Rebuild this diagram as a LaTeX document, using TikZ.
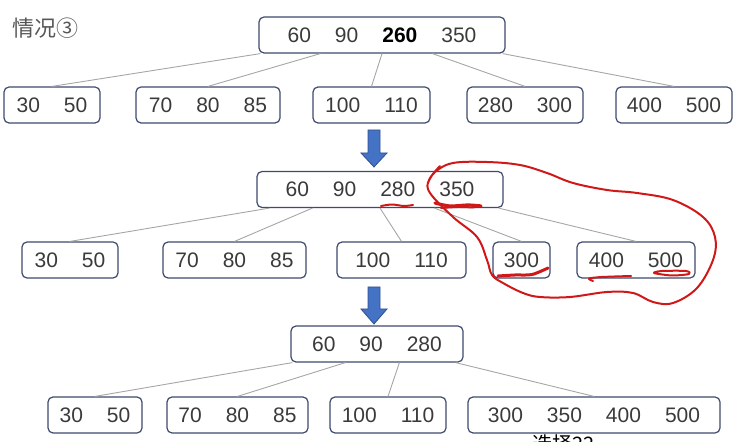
\documentclass[tikz,border=0pt]{standalone}
\usepackage{fontspec}
\setmainfont{Liberation Sans}
\newfontfamily\cjk{Noto Sans CJK SC}
\usetikzlibrary{calc}

\definecolor{boxline}{HTML}{3E4A6E}
\definecolor{linkgray}{HTML}{A6A6A6}
\definecolor{numtext}{HTML}{3A3A3A}
\definecolor{arrowblue}{HTML}{4472C4}
\definecolor{arrowedge}{HTML}{2F528F}
\definecolor{inkred}{HTML}{D01818}

\newcommand{\kgap}{\hspace{12pt}}

\tikzset{
	keybox/.style={draw=boxline, line width=0.6pt, rounded corners=2.5pt, minimum height=18pt, inner sep=0pt, text=numtext, font=\fontsize{10.5}{12}\selectfont},
	link/.style={draw=linkgray, line width=0.45pt},
	pen/.style={draw=inkred, line width=1pt, line cap=round, line join=round},
	blockarrow/.style={fill=arrowblue, draw=arrowedge, line width=0.4pt}
}

\begin{document}
\begin{tikzpicture}[x=0.5pt, y=-0.5pt]
		\useasboundingbox (0,0) rectangle (747,442);
		\node[anchor=west, text=numtext!85, font=\cjk\fontsize{11}{13}\selectfont, inner sep=0pt] (title) at (12,28) {情况③};

		% before the split
		\node[keybox, minimum width=123pt] (t1) at (382,35) {60\kgap 90\kgap \textbf{\color{black}260}\kgap 350};
		\node[keybox, minimum width=48pt] (a1) at (52,105) {30\kgap 50};
		\node[keybox, minimum width=72pt] (a2) at (208,105) {70\kgap 80\kgap 85};
		\node[keybox, minimum width=58.5pt] (a3) at (371.5,105) {100\kgap 110};
		\node[keybox, minimum width=58pt] (a4) at (525,105) {280\kgap 300};
		\node[keybox, minimum width=58pt] (a5) at (674,105) {400\kgap 500};
		\draw[link] ($(t1.south west)+(2,0)$) -- (a1.north);
		\draw[link] ($(t1.south west)+(62,0)$) -- (a2.north);
		\draw[link] (t1.south) -- (a3.north);
		\draw[link] ($(t1.south west)+(174,0)$) -- (a4.north);
		\draw[link] ($(t1.south east)+(-3,0)$) -- (a5.north);

		\draw[blockarrow] (368,130) -- (380,130) -- (380,153) -- (387,153) -- (374,167) -- (361,153) -- (368,153) -- cycle;

		% after moving 280 up
		\node[keybox, minimum width=123pt] (t2) at (380,189.5) {60\kgap 90\kgap 280\kgap 350};
		\node[keybox, minimum width=48pt] (b1) at (70,260) {30\kgap 50};
		\node[keybox, minimum width=71.5pt] (b2) at (234.5,260) {70\kgap 80\kgap 85};
		\node[keybox, minimum width=64.5pt] (b3) at (401.5,260) {100\kgap 110};
		\node[keybox, minimum width=28.5pt] (b4) at (521.5,260) {300};
		\node[keybox, minimum width=59pt] (b5) at (636,260) {400\kgap 500};
		\draw[link] ($(t2.south west)+(13,0)$) -- (b1.north);
		\draw[link] ($(t2.south west)+(56,0)$) -- (b2.north);
		\draw[link] (t2.south) -- (b3.north);
		\draw[link] ($(t2.south west)+(178,0)$) -- (b4.north);
		\draw[link] ($(t2.south east)+(-5,0)$) -- (b5.north);

		\draw[blockarrow] (368,287) -- (380,287) -- (380,309) -- (387,309) -- (374,324) -- (361,309) -- (368,309) -- cycle;

		% after the merge
		\node[keybox, minimum width=86pt] (t3) at (377,344) {60\kgap 90\kgap 280};
		\node[keybox, minimum width=47pt] (c1) at (95,415) {30\kgap 50};
		\node[keybox, minimum width=70.5pt] (c2) at (237.5,415) {70\kgap 80\kgap 85};
		\node[keybox, minimum width=58pt] (c3) at (388,415) {100\kgap 110};
		\node[keybox, minimum width=126pt] (c4) at (594,415) {300\kgap 350\kgap 400\kgap 500};
		\draw[link] ($(t3.south west)+(2,0)$) -- (c1.north);
		\draw[link] ($(t3.south west)+(55,0)$) -- (c2.north);
		\draw[link] ($(t3.south west)+(109,0)$) -- (c3.north);
		\draw[link] ($(t3.south east)+(-8,0)$) -- (c4.north);

		\node[anchor=north west, inner sep=0pt, font=\cjk\fontsize{10}{12}\selectfont] (caption) at (532,434) {选择22};

		% red pen marks
		\draw[pen] plot[smooth, tension=0.6] coordinates {(428,183) (435,172) (453,163) (487,162) (520,165) (547,173) (573,183) (607,190) (637,193) (673,200) (703,217) (715,237) (713,260) (697,288) (673,303) (653,302) (633,293) (607,292) (570,297) (540,297) (523,293) (503,283) (492,275) (487,260) (477,237) (453,217) (430,193) (429,180) (440,166)};
		\draw[pen] plot[smooth, tension=0.5] coordinates {(381,206) (392,204.5) (404,206) (413,205)};
		\draw[pen, line width=1.6pt] plot[smooth, tension=0.5] coordinates {(435,203) (450,206) (468,205) (481,206)};
		\draw[pen] plot[smooth, tension=0.5] coordinates {(441,208) (458,207) (474,207.5)};
		\draw[pen, line width=1.5pt] plot[smooth, tension=0.5] coordinates {(498,276) (515,275) (532,274.5) (548,268)};
		\draw[pen] plot[smooth, tension=0.5] coordinates {(593,281) (589,278.5) (602,277) (631,276)};
		\draw[pen] plot[smooth cycle, tension=0.5] coordinates {(654,273) (672,275.5) (689,274) (686,271) (662,271)};
\end{tikzpicture}
\end{document}
